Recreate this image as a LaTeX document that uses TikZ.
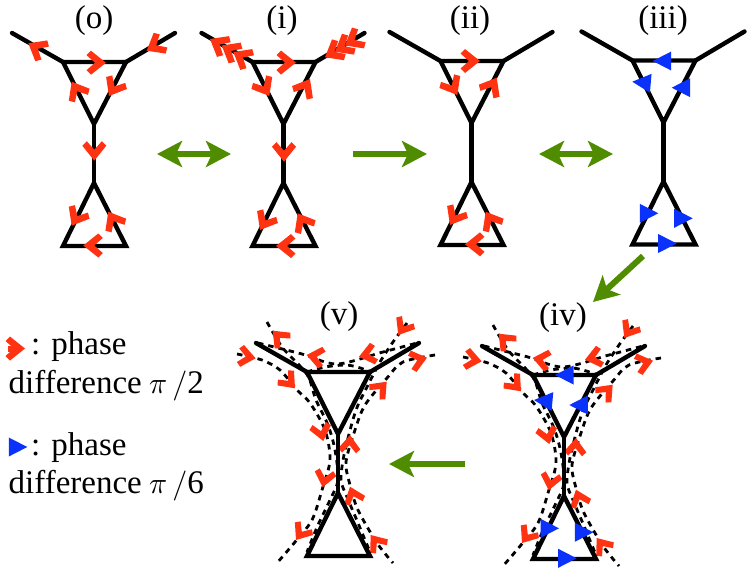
\documentclass[tikz,border=0pt]{standalone}
\usepackage{graphicx}
\usepackage{fontspec}
\setmainfont{Liberation Serif}
\usetikzlibrary{arrows.meta}
\definecolor{tipred}{RGB}{255,51,17}
\definecolor{tipblue}{RGB}{10,50,250}
\definecolor{flowgreen}{RGB}{80,140,0}

% pi and slash at legend size
\newcommand{\piover}{\scalebox{3}{\normalsize$\pi\,/$}}

% dashed bands and red tips shared by the two lower graphs
\newcommand{\dressing}{
    \draw[band] plot[smooth] coordinates {(258,343) (302,354) (337,364) (383,352) (417,343)};
    \draw[band] plot[smooth] coordinates {(307,372) (325,367) (345,365) (357,367) (372,372)};
    \draw[band] plot[smooth] coordinates {(237,354) (262,360) (280,370) (297,390) (310,403) (325,430) (330,460) (322,490) (312,520) (295,542) (277,563)};
    \draw[band] plot[smooth] coordinates {(435,355) (403,362) (387,378) (365,405) (355,430) (346,462) (350,485) (358,510) (377,543) (393,563)};
    \draw[band] plot[smooth] coordinates {(267,322) (282,347) (300,366) (309,378) (316,400) (328,425) (335,450) (338,480) (330,500) (318,525) (307,552)};
    \draw[band] plot[smooth] coordinates {(407,323) (393,342) (380,362) (368,385) (358,405) (352,423) (344,455) (341,480) (347,497) (358,523) (370,552)};
    \foreach \x/\y/\a in {272.7/330.7/135, 255.7/358.3/-10, 306.7/355/169, 295/388.3/-48,
        398.3/335/-122, 359/356.7/193, 427/357.7/15, 386.7/381.7/47,
        323.3/441/-77, 350/435/87, 322.7/487.3/-102, 350/486.7/110, 296/540/-125, 370.7/535/127}
        \pic[rotate=\a, scale=.92] at (\x,\y) {redtip};
}

\begin{document}
\begin{tikzpicture}[x=1pt, y=-1pt,
    rail/.style={line width=4.4pt, line cap=round, line join=miter},
    band/.style={line width=2.8pt, dash pattern=on 5.5pt off 5pt},
    title/.style={font=\fontsize{33}{38}\selectfont},
    legend/.style={font=\fontsize{33}{38}\selectfont, anchor=base west, inner sep=0pt},
    flow/.style={line width=6pt, flowgreen, -{Stealth[length=25pt, width=26pt, inset=6pt]}},
    flowboth/.style={line width=6pt, flowgreen, {Stealth[length=25pt, width=26pt, inset=6pt]}-{Stealth[length=25pt, width=26pt, inset=6pt]}},
    redtip/.pic={\fill[tipred] (0,0) -- (-15,12) -- (-19.5,7.5) -- (-11,0) -- (-19.5,-7.5) -- (-15,-12) -- cycle;},
    bluetip/.pic={\fill[tipblue] (0,0) -- (-18.5,-9.5) -- (-18.5,9.5) -- cycle;}]
    \useasboundingbox (0,0) rectangle (747,574);

    % Graphs
    \foreach \name/\dx/\dy/\lbl/\tx/\ty in {o/0/0/(o)/94/21, i/189.5/0/(i)/282/21, ii/377.5/-1/(ii)/470/21,
        iii/569.5/-1.5/(iii)/663/21, v/244/310/(v)/339/317, iv/470/313/(iv)/563/318} {
        \node[title] (\name-title) at (\tx,\ty) {\lbl};
        \begin{scope}[shift={(\dx,\dy)}]
            \coordinate (\name-sl) at (12,33);
            \coordinate (\name-tl) at (63,62);
            \coordinate (\name-tr) at (126,62);
            \coordinate (\name-sr) at (175,33);
            \coordinate (\name-top) at (94,124);
            \coordinate (\name-mid) at (94,183);
            \coordinate (\name-bl) at (63,246);
            \coordinate (\name-br) at (126,246);
        \end{scope}
    }

    \dressing
    \begin{scope}[shift={(226,3)}]
        \dressing
    \end{scope}

    \foreach \name in {o,i,ii,iii,v,iv} {
        \draw[rail] (\name-sl) -- (\name-tl) -- (\name-tr) -- (\name-sr);
        \draw[rail] (\name-tl) -- (\name-top) -- (\name-tr);
        \draw[rail] (\name-top) -- (\name-mid);
        \draw[rail] (\name-mid) -- (\name-bl) -- (\name-br) -- cycle;
    }

    % Red tips
    \foreach \x/\y/\a in {28.3/43.3/150, 106/62.7/0, 146.7/50.7/210, 71.7/81.7/120, 109/96/240,
        94.3/160.7/-90, 71.7/225.7/240, 108.3/211.7/120, 83.3/245.5/180,
        210/39/150, 221.7/45.5/150, 233.3/52/150, 296/62.5/0, 325/57.3/210, 335/51.7/210, 345/45.5/210,
        269.3/96/300, 310/79/60, 284/161.7/-90, 260/230/240, 297.7/213.3/120, 276/246/180,
        480/61/0, 457.3/95/300, 496.7/77.7/60, 450/225/240, 485.7/211.7/120, 465/244.3/180}
        \pic[rotate=\a] at (\x,\y) {redtip};

    % Blue tips
    \foreach \x/\y/\a in {652.7/61/180, 632.3/81.7/175, 671.7/87.7/180, 658.3/213.3/0, 692.7/218.3/0, 676.7/243.5/0,
        555/375/180, 534/400/175, 569.3/405/180, 559/528.3/0, 593.3/532.3/0, 576.7/558.3/0}
        \pic[rotate=\a] at (\x,\y) {bluetip};

    % Flow between graphs
    \coordinate (swap-a) at (157,154);
    \coordinate (swap-b) at (231,154);
    \coordinate (step-a) at (353,154);
    \coordinate (step-b) at (427,154);
    \coordinate (swap-c) at (539,154);
    \coordinate (swap-d) at (613,154);
    \coordinate (turn-a) at (643,256);
    \coordinate (turn-b) at (593,302);
    \coordinate (back-a) at (465,464);
    \coordinate (back-b) at (389,464);
    \draw[flowboth] (swap-a) -- (swap-b);
    \draw[flow] (step-a) -- (step-b);
    \draw[flowboth] (swap-c) -- (swap-d);
    \draw[flow] (turn-a) -- (turn-b);
    \draw[flow] (back-a) -- (back-b);

    % Legend
    \draw[tipred, line width=6pt] (8,348.5) -- (16,348.5);
    \pic at (25,348.5) {redtip};
    \pic at (27.3,447) {bluetip};
    \node[legend] (red-head) at (31,354) {: phase};
    \node[legend] (red-text) at (8.5,393) {difference\hspace{-1pt} \piover2};
    \node[legend] (blue-head) at (31,455) {: phase};
    \node[legend] (blue-text) at (8.5,493.5) {difference\hspace{-1pt} \piover6};
\end{tikzpicture}
\end{document}
